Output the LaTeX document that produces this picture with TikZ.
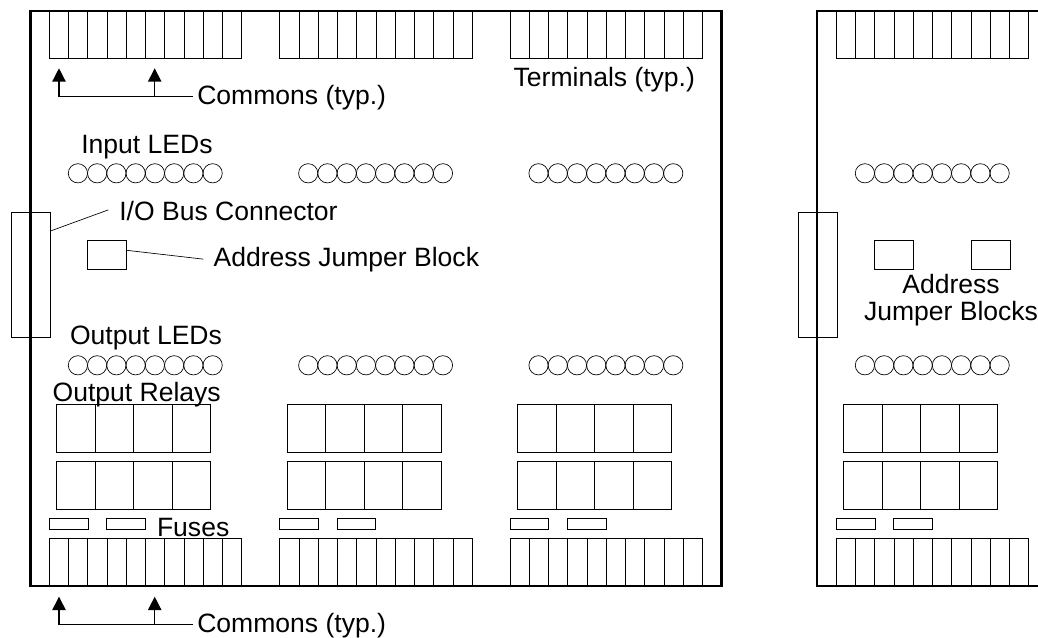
\documentclass[tikz,border=0pt]{standalone}
\usepackage{fontspec}
\setmainfont{Liberation Sans}
\usepackage{tikz}
\usetikzlibrary{positioning}
\usetikzlibrary{arrows.meta}

\tikzset{
  tag/.style={inner sep=0,anchor=base west,font=\fontsize{19.9}{20.5}\selectfont},
  block/.style={draw,inner sep=0,anchor=north west,minimum width=29.25pt,minimum height=21.75pt},
  tip/.style={-{Triangle[width=10pt,length=10pt]},line width=1pt},
}

\begin{document}
\begin{tikzpicture}[x=.75pt,y=-.75pt,line width=.5pt]
  \useasboundingbox (0,0) rectangle (1038,638);

  % boards
  \draw[line width=1.6pt] (30.5,11) rectangle (721.5,585.7);
  \draw[line width=1.6pt] (1045,11) -- (817.3,11) -- (817.3,585.7) -- (1045,585.7);

  % bus connectors
  \node[block,minimum height=93.75pt] (bus) at (10.7,211.7) {};
  \node[block,minimum height=93.75pt] (bustwo) at (797.7,211.7) {};

  % terminals, fuses, leds, relays
  \foreach \gx in {49.3,279.6,509.9,836.3} {
    \foreach \i in {0,...,9} {
      \draw ({\gx+\i*19.25},11) rectangle ({\gx+(\i+1)*19.25},58.5);
      \draw ({\gx+\i*19.25},538.3) rectangle ({\gx+(\i+1)*19.25},585.7);
    }
    \draw (\gx,518.7) rectangle ({\gx+38.7},529);
    \draw ({\gx+57.4},518.7) rectangle ({\gx+96.1},529);
    \foreach \i in {0,...,7} {
      \draw ({\gx+28.6+\i*19.25},173.3) circle (9.62);
      \draw ({\gx+28.6+\i*19.25},365.3) circle (9.62);
    }
    \foreach \i in {0,...,3} {
      \draw ({\gx+7.5+\i*38.5},404) rectangle ({\gx+7.5+(\i+1)*38.5},452);
      \draw ({\gx+7.5+\i*38.5},461.3) rectangle ({\gx+7.5+(\i+1)*38.5},509.3);
    }
  }

  % jumper blocks
  \node[block] (jumper) at (87.3,240.3) {};
  \node[block] (jumpertwo) at (874.3,240.3) {};
  \node[block] (jumperthree) at (970.5,240.3) {};

  % labels
  \node[tag] (inputleds) at (81,153.3) {Input LEDs};
  \node[tag] (outputleds) at (69.7,344) {Output LEDs};
  \node[tag] (relays) at (52.3,401.7) {Output Relays};
  \node[tag] (fuses) at (156.7,536) {Fuses};
  \node[tag] (terminals) at (513.3,86.7) {Terminals (typ.)};
  \node[tag] (iolabel) at (119,220.7) {I/O Bus Connector};
  \node[tag] (jumperlabel) at (213.3,266) {Address Jumper Block};
  \node[tag] (commontop) at (197,104.3) {Commons (typ.)};
  \node[tag] (commonbot) at (197,632.3) {Commons (typ.)};
  \node[tag,anchor=center,align=center] (jumperblocks) at (951,300) {Address\\Jumper Blocks};

  % leaders
  \draw ([yshift=-14.5pt]bus.north east) -- ([xshift=-8pt,yshift=1pt]iolabel.west);
  \draw ([yshift=3.6pt]jumper.east) -- ([xshift=-7.5pt]jumperlabel.west);

  % commons
  \coordinate (topa) at (59,96.7);
  \coordinate (topb) at (154.7,96.7);
  \coordinate (bota) at (59,624.7);
  \coordinate (botb) at (154.7,624.7);
  \draw (topa) -- ([xshift=-3pt]topa -| commontop.west);
  \draw (bota) -- ([xshift=-3pt]bota -| commonbot.west);
  \draw[tip] (topa) -- (59,68.3);
  \draw[tip] (topb) -- (154.7,68.3);
  \draw[tip] (bota) -- (59,596.7);
  \draw[tip] (botb) -- (154.7,596.7);
\end{tikzpicture}
\end{document}
